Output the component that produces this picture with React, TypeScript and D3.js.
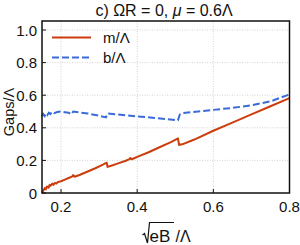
import React from "react";
import * as d3 from "d3";

const xTicks = [0.2, 0.4, 0.6, 0.8];
const yTicks = [0, 0.2, 0.4, 0.6, 0.8, 1.0];

const mX = [0.15, 0.153, 0.157, 0.16, 0.163, 0.167, 0.17, 0.173, 0.177, 0.18, 0.184, 0.188, 0.192, 0.2, 0.21, 0.22, 0.23, 0.232, 0.236, 0.25, 0.27, 0.29, 0.31, 0.32, 0.322, 0.33, 0.35, 0.37, 0.38, 0.382, 0.386, 0.4, 0.43, 0.46, 0.49, 0.507, 0.51, 0.52, 0.55, 0.6, 0.65, 0.7, 0.75, 0.8];
const mY = [0.0, 0.012, 0.03, 0.022, 0.04, 0.032, 0.05, 0.045, 0.058, 0.05, 0.062, 0.058, 0.068, 0.072, 0.082, 0.092, 0.102, 0.11, 0.1, 0.112, 0.132, 0.152, 0.174, 0.186, 0.16, 0.166, 0.182, 0.198, 0.208, 0.215, 0.207, 0.222, 0.25, 0.282, 0.314, 0.335, 0.295, 0.3, 0.328, 0.382, 0.432, 0.482, 0.532, 0.582];

const bX = [0.15, 0.153, 0.157, 0.16, 0.164, 0.168, 0.172, 0.177, 0.182, 0.19, 0.2, 0.21, 0.22, 0.228, 0.232, 0.25, 0.27, 0.3, 0.318, 0.322, 0.34, 0.37, 0.4, 0.44, 0.48, 0.507, 0.512, 0.52, 0.56, 0.6, 0.65, 0.7, 0.75, 0.8];
const bY = [0.47, 0.485, 0.472, 0.488, 0.478, 0.492, 0.484, 0.498, 0.49, 0.497, 0.5, 0.496, 0.492, 0.483, 0.5, 0.494, 0.488, 0.474, 0.464, 0.488, 0.483, 0.477, 0.47, 0.462, 0.452, 0.446, 0.482, 0.49, 0.5, 0.51, 0.522, 0.538, 0.562, 0.605];

const W = 300, H = 245;
const L = 42, R = 289.5, T = 21, B = 193;

export default function App() {
  const x = d3.scaleLinear().domain([0.15, 0.8]).range([L, R]);
  const y = d3.scaleLinear().domain([0, 1]).range([B, 30]);
  const mPath = d3.line<number>().x((d, i) => x(mX[i])).y((d) => y(d))(mY) || "";
  const bPath = d3.line<number>().x((d, i) => x(bX[i])).y((d) => y(d))(bY) || "";
  const red = "#cc3d0e";
  const blue = "#3a6bd8";
  const font = "Liberation Sans, Arial, sans-serif";
  return (
    <svg width={W} height={H} style={{ position: "absolute", left: 0, top: 0 }} fontFamily={font}>
      <rect x={0} y={0} width={W} height={H} fill="#fff" />
      {xTicks.slice(0, 3).map((t) => (
        <line key={"gx" + t} x1={x(t)} x2={x(t)} y1={T} y2={B} stroke="#c8c8c8" strokeWidth={0.8} strokeDasharray="1,1.5" />
      ))}
      {yTicks.slice(1).map((t) => (
        <line key={"gy" + t} x1={L} x2={R} y1={y(t)} y2={y(t)} stroke="#c8c8c8" strokeWidth={0.8} strokeDasharray="1,1.5" />
      ))}
      <path d={mPath} fill="none" stroke={red} strokeWidth={2} strokeLinejoin="round" />
      <path d={bPath} fill="none" stroke={blue} strokeWidth={2} strokeDasharray="7,3" />
      <rect x={L} y={T} width={R - L} height={B - T} fill="none" stroke="#111" strokeWidth={1.5} />
      {xTicks.map((t) => (
        <g key={"tx" + t}>
          <line x1={x(t)} x2={x(t)} y1={B} y2={B - 4} stroke="#111" strokeWidth={1} />
          <text x={x(t)} y={212} textAnchor="middle" fontSize={15} fill="#111">{t.toFixed(1)}</text>
        </g>
      ))}
      {yTicks.map((t) => (
        <g key={"ty" + t}>
          <line x1={L} x2={L + 4} y1={y(t)} y2={y(t)} stroke="#111" strokeWidth={1} />
          <text x={37} y={y(t) + 5.5} textAnchor="end" fontSize={15} fill="#111">{t === 0 ? "0" : t.toFixed(1)}</text>
        </g>
      ))}
      <line x1={52} x2={91} y1={37.5} y2={37.5} stroke={red} strokeWidth={2} />
      <text x={103} y={43} fontSize={15} fill="#111">m/Λ</text>
      <line x1={52} x2={91} y1={57.5} y2={57.5} stroke={blue} strokeWidth={2} strokeDasharray="7,3" />
      <text x={103} y={63} fontSize={15} fill="#111">b/Λ</text>
      <text x={164} y={15.5} textAnchor="middle" fontSize={16} fill="#111">
        c) ΩR = 0, <tspan fontStyle="italic">μ</tspan> = 0.6Λ
      </text>
      <text transform="translate(13.5,112) rotate(-90)" textAnchor="middle" fontSize={14.5} fill="#111">Gaps/Λ</text>
      <path d="M142.5,235 L144.5,233.5 L147.5,243 L149.5,222.5 L174,222.5" fill="none" stroke="#111" strokeWidth={1.2} />
      <text x={149.5} y={241.5} fontSize={17} fill="#111">eB</text>
      <text x={175.5} y={241.5} fontSize={16} fill="#111">/Λ</text>
    </svg>
  );
}
